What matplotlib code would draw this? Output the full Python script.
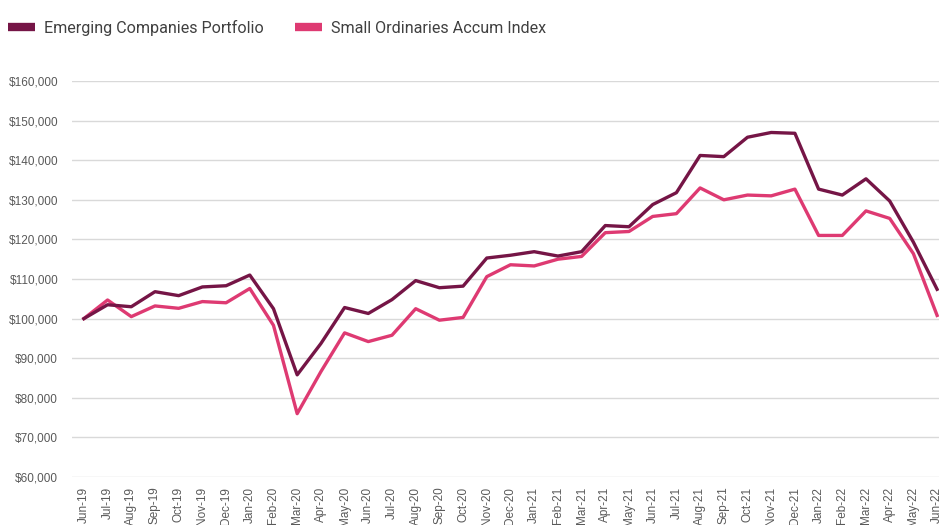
import matplotlib
matplotlib.use('Agg')
import matplotlib.pyplot as plt
from matplotlib.lines import Line2D
from matplotlib.ticker import FuncFormatter

months = ['Jun-19', 'Jul-19', 'Aug-19', 'Sep-19', 'Oct-19', 'Nov-19', 'Dec-19',
          'Jan-20', 'Feb-20', 'Mar-20', 'Apr-20', 'May-20', 'Jun-20', 'Jul-20',
          'Aug-20', 'Sep-20', 'Oct-20', 'Nov-20', 'Dec-20', 'Jan-21', 'Feb-21',
          'Mar-21', 'Apr-21', 'May-21', 'Jun-21', 'Jul-21', 'Aug-21', 'Sep-21',
          'Oct-21', 'Nov-21', 'Dec-21', 'Jan-22', 'Feb-22', 'Mar-22', 'Apr-22',
          'May-22', 'Jun-22']

portfolio = [100000, 103500, 103000, 106800, 105800, 108000, 108300,
             111000, 102500, 85800, 93700, 102800, 101300, 104800,
             109600, 107800, 108200, 115300, 116000, 116900, 115800,
             116900, 123500, 123200, 128800, 131800, 141200, 140900,
             145800, 147000, 146800, 132700, 131200, 135300, 129700,
             119300, 107400]

index = [100000, 104700, 100500, 103200, 102600, 104300, 104000,
         107600, 98300, 76000, 86600, 96400, 94200, 95800,
         102500, 99600, 100300, 110600, 113600, 113300, 115000,
         115700, 121700, 122000, 125800, 126500, 133000, 130000,
         131200, 131000, 132700, 121000, 121000, 127200, 125300,
         116400, 100800]

dark = '#751546'
pink = '#de3a72'

fig = plt.figure(figsize=(9.39, 5.25), dpi=100)
ax = fig.add_axes([0.0767, 0.0914, 0.9233, 0.7543])

x = list(range(len(months)))
ax.plot(x, index, color=pink, linewidth=2.4, zorder=3)
ax.plot(x, portfolio, color=dark, linewidth=2.4, zorder=4)

ax.set_ylim(60000, 160000)
ax.set_xlim(-0.5, 36.08)
ax.set_yticks(range(60000, 160001, 10000))
ax.yaxis.set_major_formatter(FuncFormatter(lambda v, p: f'${v:,.0f}'))
ax.set_xticks(x)
ax.set_xticklabels(months, rotation=90)
ax.grid(axis='y', color='#d9d9d9', linewidth=1)
ax.set_axisbelow(True)
for s in ax.spines.values():
    s.set_visible(False)
ax.tick_params(length=0, labelsize=8.5, labelcolor='#595959')
ax.tick_params(axis='y', pad=10)
ax.tick_params(axis='x', pad=7)
for lbl in ax.get_xticklabels() + ax.get_yticklabels():
    lbl.set_fontfamily('Liberation Sans')

handles = [Line2D([0], [0], color=dark, linewidth=6, solid_capstyle='butt'),
           Line2D([0], [0], color=pink, linewidth=6, solid_capstyle='butt')]
fig.legend(handles, ['Emerging Companies Portfolio', 'Small Ordinaries Accum Index'],
           loc='upper left', bbox_to_anchor=(-0.007, 0.99), ncol=2, frameon=False,
           handlelength=1.7, handletextpad=0.55, columnspacing=1.9,
           prop={'family': 'Roboto', 'size': 11.6}, labelcolor='#404040')

fig.savefig('out.png', dpi=100)
